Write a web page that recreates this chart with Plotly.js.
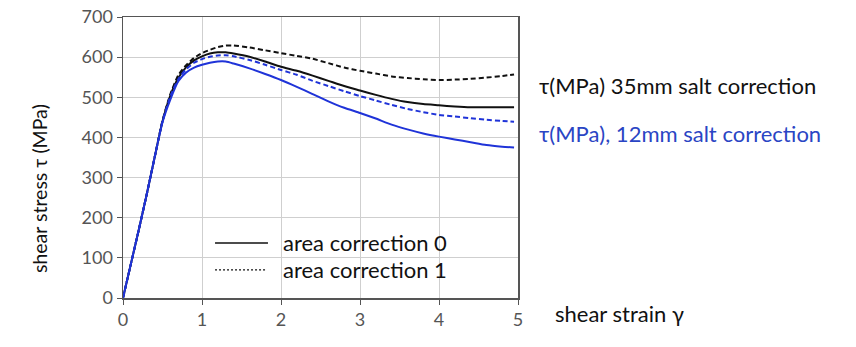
<!DOCTYPE html>
<html>
<head>
<meta charset="utf-8">
<script src="https://cdn.plot.ly/plotly-3.0.1.min.js"></script>
<style>
  html, body { margin: 0; padding: 0; background: #fff; }
  #chart { width: 856px; height: 347px; }
</style>
</head>
<body>
<div id="chart"></div>
<script>
// Shear strain γ sample points (shared by all four curves)
const strain = [0, 0.1, 0.2, 0.3, 0.4, 0.5, 0.6, 0.7, 0.8, 0.9, 1.0, 1.1, 1.2, 1.3, 1.4,
                1.6, 1.8, 2.0, 2.2, 2.4, 2.6, 2.8, 3.0, 3.2, 3.4, 3.6, 3.8, 4.0, 4.2, 4.4,
                4.6, 4.8, 4.95];

// τ (MPa), 35 mm salt correction
const tau35_ac0 = [0, 85, 170, 258, 350, 440, 505, 548, 575, 592, 602, 609, 612, 612, 609,
                   601, 589, 576, 566, 554, 541, 528, 517, 506, 496, 488, 483, 480, 477, 475,
                   475, 475, 475];
const tau35_ac1 = [0, 85, 170, 258, 350, 442, 508, 555, 580, 598, 610, 618, 625, 629, 629,
                   624, 617, 610, 603, 596, 585, 574, 566, 559, 552, 548, 545, 543, 544, 546,
                   549, 553, 557];

// τ (MPa), 12 mm salt correction
const tau12_ac0 = [0, 85, 170, 258, 350, 438, 495, 540, 562, 574, 581, 586, 589, 589, 584,
                   572, 558, 543, 526, 508, 490, 474, 461, 447, 432, 420, 410, 402, 395, 388,
                   381, 377, 375];
const tau12_ac1 = [0, 85, 170, 258, 350, 440, 503, 545, 570, 586, 595, 601, 604, 605, 602,
                   593, 581, 568, 556, 541, 528, 515, 503, 492, 481, 471, 463, 456, 452, 448,
                   444, 441, 439];

const legendLabels = ["area correction 0", "area correction 1"];
const seriesLabels = ["τ(MPa) 35mm salt correction", "τ(MPa), 12mm salt correction"];
const xTicks = [0, 1, 2, 3, 4, 5];
const yTicks = [0, 100, 200, 300, 400, 500, 600, 700];

const BLACK = "#111111";
const BLUE = "#1f33d8";
const FONT = "Lato, 'Open Sans', sans-serif";
const DASH = "5px,3px";

function curve(y, color, dash) {
  return {
    x: strain, y: y, type: "scatter", mode: "lines",
    line: { color: color, width: 2, dash: dash, shape: "spline", smoothing: 0.6 },
    showlegend: false, hoverinfo: "skip"
  };
}

const traces = [
  curve(tau35_ac1, BLACK, DASH),
  curve(tau35_ac0, BLACK, "solid"),
  curve(tau12_ac1, BLUE, DASH),
  curve(tau12_ac0, BLUE, "solid")
];

const layout = {
  width: 856, height: 347,
  margin: { l: 123, r: 338, t: 17, b: 49 },
  paper_bgcolor: "#fff", plot_bgcolor: "#fff",
  font: { family: FONT, color: "#333" },
  showlegend: false,
  xaxis: {
    range: [0, 5], tickvals: xTicks, ticktext: xTicks.map(String),
    showgrid: true, gridcolor: "#cfcfcf", gridwidth: 1, zeroline: false,
    showline: true, linecolor: "#555", linewidth: 1.5, mirror: true,
    ticks: "outside", ticklen: 5, tickcolor: "#555", tickwidth: 1,
    tickfont: { family: FONT, size: 18, color: "#555" }
  },
  yaxis: {
    range: [0, 700], tickvals: yTicks, ticktext: yTicks.map(String),
    showgrid: true, gridcolor: "#cfcfcf", gridwidth: 1, zeroline: false,
    showline: true, linecolor: "#555", linewidth: 1.5, mirror: true,
    ticks: "outside", ticklen: 5, tickcolor: "#555", tickwidth: 1,
    tickfont: { family: FONT, size: 18, color: "#555" }
  },
  shapes: [
    // legend line samples
    { type: "line", xref: "paper", yref: "paper", x0: 0.233, x1: 0.367, y0: 0.196, y1: 0.196,
      line: { color: BLACK, width: 1.5 } },
    { type: "line", xref: "paper", yref: "paper", x0: 0.233, x1: 0.360, y0: 0.100, y1: 0.100,
      line: { color: BLACK, width: 1.2, dash: "2px,2px" } }
  ],
  annotations: [
    // y-axis title, set a little below the middle of the plot area
    { xref: "paper", yref: "paper", x: -0.210, y: 0.388, xanchor: "center", yanchor: "middle",
      textangle: -90, text: "shear stress τ (MPa)", showarrow: false,
      font: { family: FONT, size: 19.5, color: "#111" } },
    // legend texts
    { xref: "paper", yref: "paper", x: 0.400, y: 0.196, xanchor: "left", yanchor: "middle",
      text: legendLabels[0], showarrow: false, font: { family: FONT, size: 22, color: "#111" } },
    { xref: "paper", yref: "paper", x: 0.400, y: 0.100, xanchor: "left", yanchor: "middle",
      text: legendLabels[1], showarrow: false, font: { family: FONT, size: 22, color: "#111" } },
    // series labels on the right
    { xref: "paper", yref: "paper", x: 1.048, y: 0.756, xanchor: "left", yanchor: "middle",
      text: seriesLabels[0], showarrow: false, font: { family: FONT, size: 22, color: "#111" } },
    { xref: "paper", yref: "paper", x: 1.048, y: 0.585, xanchor: "left", yanchor: "middle",
      text: seriesLabels[1], showarrow: false, font: { family: FONT, size: 22, color: "#2a45c4" } },
    // x-axis title, beside the axis end
    { xref: "paper", yref: "paper", x: 1.0886, y: -0.055, xanchor: "left", yanchor: "middle",
      text: "shear strain γ", showarrow: false, font: { family: FONT, size: 22, color: "#111" } }
  ]
};

Plotly.newPlot("chart", traces, layout, { staticPlot: true, displayModeBar: false });
</script>
</body>
</html>
